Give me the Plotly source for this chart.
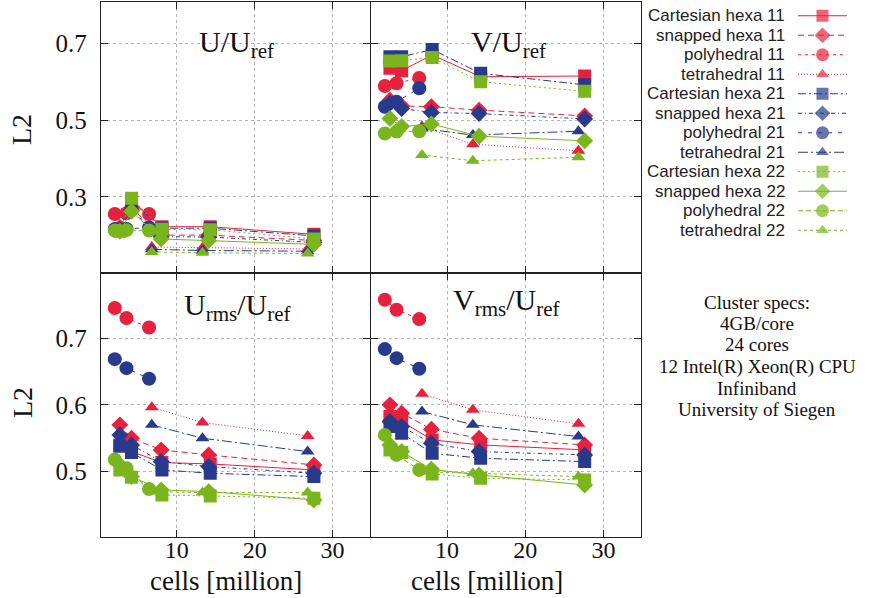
import plotly.graph_objects as go

W, H = 873, 598

# ---------------- data ----------------
SERIES = ["11", "21", "22"]
MESHES = ["Cartesian hexa", "snapped hexa", "polyhedral", "tetrahedral"]

X_CART = [2.7, 4.2, 8.1, 14.3, 27.6]
X_SNAP = [2.7, 4.2, 8.0, 14.1, 27.6]
X_POLY = [2.05, 3.55, 6.45]
X_TETRA = [6.8, 13.3, 26.8]

# U/U_ref  (rows: series 11, 21, 22)
U_CART = [[0.215, 0.290, 0.222, 0.222, 0.202],
          [0.212, 0.288, 0.218, 0.218, 0.198],
          [0.210, 0.296, 0.215, 0.214, 0.190]]
U_SNAP = [[0.220, 0.270, 0.200, 0.200, 0.186],
          [0.215, 0.265, 0.196, 0.195, 0.181],
          [0.210, 0.262, 0.190, 0.186, 0.176]]
U_POLY = [[0.255, 0.257, 0.255],
          [0.216, 0.216, 0.220],
          [0.212, 0.213, 0.212]]
U_TETRA = [[0.169, 0.167, 0.164],
           [0.163, 0.160, 0.158],
           [0.156, 0.154, 0.152]]

# V/U_ref
V_CART = [[0.635, 0.629, 0.670, 0.613, 0.615],
          [0.665, 0.665, 0.684, 0.622, 0.592],
          [0.654, 0.655, 0.663, 0.600, 0.575]]
V_SNAP = [[0.552, 0.537, 0.535, 0.526, 0.511],
          [0.544, 0.530, 0.520, 0.517, 0.503],
          [0.504, 0.483, 0.490, 0.458, 0.446]]
V_POLY = [[0.589, 0.596, 0.610],
          [0.535, 0.548, 0.583],
          [0.465, 0.470, 0.471]]
V_TETRA = [[0.483, 0.437, 0.420],
           [0.478, 0.461, 0.471],
           [0.409, 0.394, 0.403]]

# Urms/U_ref
URMS_CART = [[0.540, 0.530, 0.5135, 0.5115, 0.5025],
             [0.538, 0.5285, 0.5025, 0.4975, 0.4925],
             [0.5025, 0.4915, 0.465, 0.4635, 0.460]]
URMS_SNAP = [[0.570, 0.550, 0.5325, 0.525, 0.510],
             [0.555, 0.540, 0.515, 0.5075, 0.4975],
             [0.510, 0.4925, 0.4725, 0.470, 0.4575]]
URMS_POLY = [[0.745, 0.730, 0.716],
             [0.6685, 0.655, 0.639],
             [0.518, 0.505, 0.474]]
URMS_TETRA = [[0.5965, 0.5735, 0.5535],
              [0.570, 0.550, 0.530],
              [0.470, 0.4685, 0.4685]]

# Vrms/U_ref
VRMS_CART = [[0.5825, 0.575, 0.5475, 0.540, 0.5325],
             [0.5675, 0.5575, 0.5275, 0.520, 0.515],
             [0.5325, 0.5285, 0.4965, 0.490, 0.4875]]
VRMS_SNAP = [[0.600, 0.5875, 0.5635, 0.550, 0.540],
             [0.575, 0.5675, 0.5425, 0.530, 0.525],
             [0.540, 0.530, 0.5035, 0.495, 0.480]]
VRMS_POLY = [[0.7575, 0.7425, 0.7285],
             [0.6835, 0.670, 0.654],
             [0.555, 0.525, 0.5025]]
VRMS_TETRA = [[0.6165, 0.5925, 0.5715],
              [0.590, 0.570, 0.5525],
              [0.500, 0.4975, 0.4925]]

PANEL_TITLES = ["U/U<sub>ref</sub>", "V/U<sub>ref</sub>",
                "U<sub>rms</sub>/U<sub>ref</sub>", "V<sub>rms</sub>/U<sub>ref</sub>"]
X_TICKS = [10, 20, 30]
Y_TICKS_TOP = [0.3, 0.5, 0.7]
Y_TICKS_BOTTOM = [0.5, 0.6, 0.7]
SPECS = ["Cluster specs:", "4GB/core", "24 cores", "12 Intel(R) Xeon(R) CPU",
         "Infiniband", "University of Siegen"]

# ---------------- styles ----------------
COLORS = {"11": "#e5213d", "21": "#273a8c", "22": "#7ab51d"}
SYMBOLS = {"Cartesian hexa": "square", "snapped hexa": "diamond",
           "polyhedral": "circle", "tetrahedral": "triangle-up"}
MSIZE = {"Cartesian hexa": 13, "snapped hexa": 13, "polyhedral": 14, "tetrahedral": 12}
DASH = {
    ("Cartesian hexa", "11"): "solid",
    ("snapped hexa", "11"): "6px,4px",
    ("polyhedral", "11"): "3px,4px",
    ("tetrahedral", "11"): "1px,2px",
    ("Cartesian hexa", "21"): "8px,3px,2px,3px",
    ("snapped hexa", "21"): "4px,3px,1px,3px",
    ("polyhedral", "21"): "4px,6px",
    ("tetrahedral", "21"): "10px,3px,2px,3px",
    ("Cartesian hexa", "22"): "2px,3px",
    ("snapped hexa", "22"): "solid",
    ("polyhedral", "22"): "5px,3px",
    ("tetrahedral", "22"): "3px,3px",
}

PANELS = [
    {"CART": U_CART, "SNAP": U_SNAP, "POLY": U_POLY, "TETRA": U_TETRA},
    {"CART": V_CART, "SNAP": V_SNAP, "POLY": V_POLY, "TETRA": V_TETRA},
    {"CART": URMS_CART, "SNAP": URMS_SNAP, "POLY": URMS_POLY, "TETRA": URMS_TETRA},
    {"CART": VRMS_CART, "SNAP": VRMS_SNAP, "POLY": VRMS_POLY, "TETRA": VRMS_TETRA},
]
MESH_KEYS = {"Cartesian hexa": ("CART", X_CART), "snapped hexa": ("SNAP", X_SNAP),
             "polyhedral": ("POLY", X_POLY), "tetrahedral": ("TETRA", X_TETRA)}


def px(xp):
    return xp / W


def py(yp):
    return 1 - yp / H


fig = go.Figure()

for p, panel in enumerate(PANELS):
    axn = "" if p == 0 else str(p + 1)
    for si, s in enumerate(SERIES):
        for m in MESHES:
            key, xs = MESH_KEYS[m]
            ys = panel[key][si]
            fig.add_trace(go.Scatter(
                x=xs, y=ys, mode="lines+markers",
                xaxis="x" + axn, yaxis="y" + axn,
                line=dict(color=COLORS[s], width=1, dash=DASH[(m, s)]),
                marker=dict(symbol=SYMBOLS[m], size=MSIZE[m], color=COLORS[s],
                            line=dict(width=0)),
                showlegend=False, hoverinfo="skip",
            ))

# custom legend (text left, sample right) on its own axis
n = 0
for s in SERIES:
    for m in MESHES:
        fig.add_trace(go.Scatter(
            x=[0, 0.5, 1], y=[n, n, n], mode="lines+markers",
            xaxis="x5", yaxis="y5",
            line=dict(color=COLORS[s], width=1, dash=DASH[(m, s)]),
            marker=dict(symbol=SYMBOLS[m], size=[0, MSIZE[m] - 1, 0], color=COLORS[s],
                        line=dict(width=0)),
            showlegend=False, hoverinfo="skip",
        ))
        n += 1

serif = "Liberation Serif, Times New Roman, serif"
sans = "Liberation Sans, Arial, sans-serif"

XL = (px(101), px(370))
XR = (px(371), px(641))
YT = (py(272.7), py(2))
YB = (py(537), py(272.7))

ax_common = dict(showline=True, linecolor="#222", linewidth=1.3, mirror="allticks",
                 ticks="inside", ticklen=7, tickcolor="#222", tickwidth=1,
                 showgrid=True, gridcolor="#b5b5b5", griddash="dot", gridwidth=1,
                 zeroline=False)
yfont = dict(tickfont=dict(family=serif, size=25, color="#111"))
xfont = dict(tickfont=dict(family=serif, size=24, color="#111"))

xrange = [0.28, 34.8]
layout = dict(
    width=W, height=H, margin=dict(l=0, r=0, t=0, b=0),
    paper_bgcolor="white", plot_bgcolor="white", showlegend=False,
    xaxis=dict(domain=XL, range=xrange, tickvals=X_TICKS, showticklabels=False, anchor="y", **ax_common),
    xaxis2=dict(domain=XR, range=xrange, tickvals=X_TICKS, showticklabels=False, anchor="y2", **ax_common),
    xaxis3=dict(domain=XL, range=xrange, tickvals=X_TICKS, anchor="y3", ticklabelstandoff=-9, **xfont, **ax_common),
    xaxis4=dict(domain=XR, range=xrange, tickvals=X_TICKS, anchor="y4", ticklabelstandoff=-9, **xfont, **ax_common),
    yaxis=dict(domain=YT, range=[0.102, 0.808], tickvals=Y_TICKS_TOP, anchor="x", ticklabelstandoff=8, **yfont, **ax_common),
    yaxis2=dict(domain=YT, range=[0.102, 0.808], tickvals=Y_TICKS_TOP, anchor="x2", showticklabels=False, **ax_common),
    yaxis3=dict(domain=YB, range=[0.402, 0.798], tickvals=Y_TICKS_BOTTOM, anchor="x3", ticklabelstandoff=8, **yfont, **ax_common),
    yaxis4=dict(domain=YB, range=[0.402, 0.798], tickvals=Y_TICKS_BOTTOM, anchor="x4", showticklabels=False, **ax_common),
    xaxis5=dict(domain=[px(798), px(847)], range=[0, 1], visible=False, anchor="y5", fixedrange=True),
    yaxis5=dict(domain=[py(240), py(6)], range=[11.5, -0.5], visible=False, anchor="x5", fixedrange=True),
)
fig.update_layout(**layout)

ann = []
# panel titles
title_pos = [(237, 44), (508, 44), (237, 307), (506, 302)]
for t, (xp, yp) in zip(PANEL_TITLES, title_pos):
    ann.append(dict(text=t, x=px(xp), y=py(yp), xref="paper", yref="paper",
                    xanchor="center", yanchor="middle", showarrow=False,
                    font=dict(family=serif, size=30, color="#111")))
# axis titles
for xp in (226, 487):
    ann.append(dict(text="cells [million]", x=px(xp), y=py(581), xref="paper", yref="paper",
                    xanchor="center", yanchor="middle", showarrow=False,
                    font=dict(family=serif, size=27, color="#111")))
for yp in (130, 403):
    ann.append(dict(text="L2", x=px(22), y=py(yp), xref="paper", yref="paper",
                    xanchor="center", yanchor="middle", showarrow=False, textangle=-90,
                    font=dict(family=serif, size=28, color="#111")))
# legend labels
n = 0
for s in SERIES:
    for m in MESHES:
        ann.append(dict(text=f"{m} {s}", x=px(787), y=n, xref="paper", yref="y5",
                        xanchor="right", yanchor="middle", showarrow=False,
                        font=dict(family=sans, size=17, color="#222")))
        n += 1
# cluster specs
spec_y = [302, 323.5, 345, 366.5, 388, 409.5]
for line, yp in zip(SPECS, spec_y):
    ann.append(dict(text=line, x=px(757), y=py(yp), xref="paper", yref="paper",
                    xanchor="center", yanchor="middle", showarrow=False,
                    font=dict(family=serif, size=19, color="#111")))
fig.update_layout(annotations=ann)

fig.write_html("out.html")
